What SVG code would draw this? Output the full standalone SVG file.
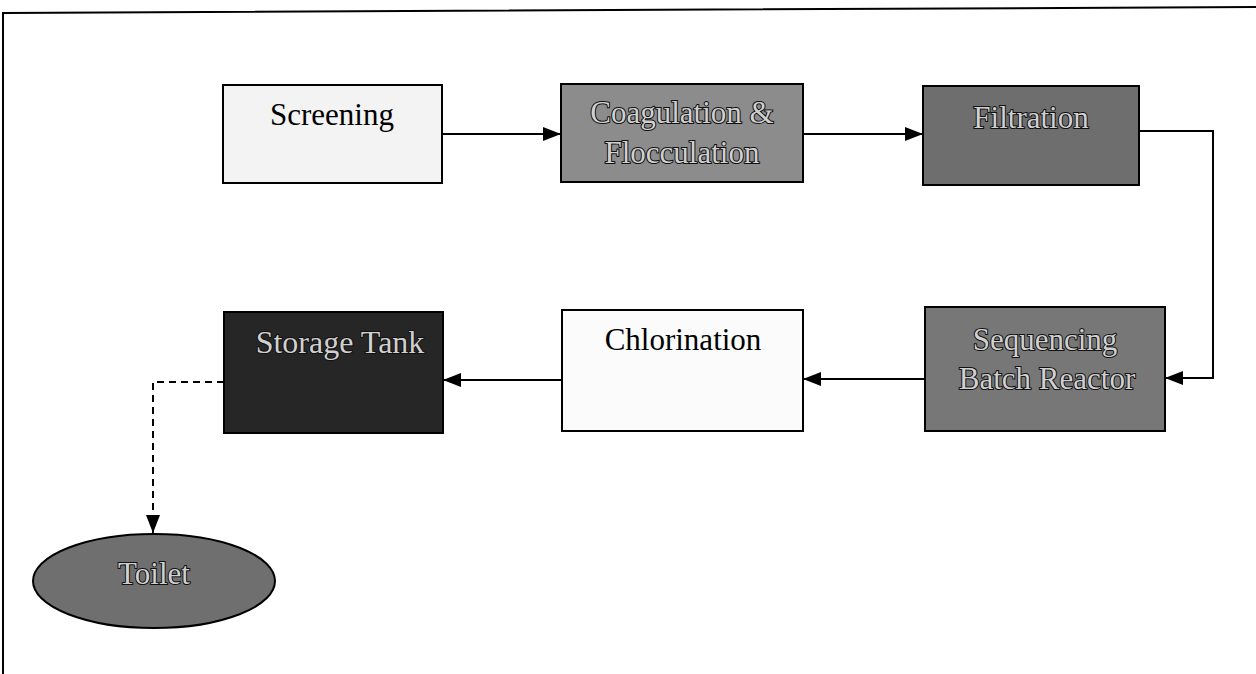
<svg xmlns="http://www.w3.org/2000/svg" width="1256" height="674" viewBox="0 0 1256 674">
<style>
.box{stroke:#000;stroke-width:2}
.t{font-family:"Liberation Serif","Times New Roman",serif;font-size:31px;text-anchor:middle}
.dark{fill:#000}
.light{fill:#d0d0d0;stroke:#111;stroke-width:2;paint-order:stroke}
.conn{fill:none;stroke:#000;stroke-width:2}
.dash{stroke-dasharray:7 5}
</style>
<defs>
<marker id="ah" viewBox="0 0 18 14" refX="18" refY="7" markerWidth="18" markerHeight="14" markerUnits="userSpaceOnUse" orient="auto">
<path d="M0,0 L18,7 L0,14 Z" fill="#000"/>
</marker>
</defs>
<rect width="1256" height="674" fill="#fff"/>
<g id="frame">
<path d="M3,674 L3,13 L1256,7" fill="none" stroke="#000" stroke-width="2"/>
</g>
<g id="connectors">
<path class="conn" d="M442,134 L561,134" marker-end="url(#ah)"/>
<path class="conn" d="M803,134 L923,134" marker-end="url(#ah)"/>
<path class="conn" d="M1139,131 L1213,131 L1213,378 L1165,378" marker-end="url(#ah)"/>
<path class="conn" d="M925,379 L803,379" marker-end="url(#ah)"/>
<path class="conn" d="M562,380 L443,380" marker-end="url(#ah)"/>
<path class="conn dash" d="M224,382 L153,382 L153,533" marker-end="url(#ah)"/>
</g>
<g id="screening">
<rect class="box" x="223" y="85" width="219" height="98" fill="#f3f3f3"/>
<text class="t dark" x="332" y="125">Screening</text>
</g>
<g id="coagulation">
<rect class="box" x="561" y="84" width="242" height="98" fill="#8c8c8c"/>
<text class="t light" x="682" y="123">Coagulation &amp;</text>
<text class="t light" x="682" y="163">Flocculation</text>
</g>
<g id="filtration">
<rect class="box" x="923" y="86" width="216" height="99" fill="#6e6e6e"/>
<text class="t light" x="1031" y="128">Filtration</text>
</g>
<g id="sbr">
<rect class="box" x="925" y="307" width="240" height="124" fill="#777"/>
<text class="t light" x="1045" y="350">Sequencing</text>
<text class="t light" x="1047" y="389">Batch Reactor</text>
</g>
<g id="chlorination">
<rect class="box" x="562" y="310" width="241" height="121" fill="#fbfbfb"/>
<text class="t dark" x="683" y="350">Chlorination</text>
</g>
<g id="storage">
<rect class="box" x="224" y="312" width="219" height="121" fill="#262626"/>
<text class="t light" x="340" y="353" style="font-size:32px">Storage Tank</text>
</g>
<g id="toilet">
<ellipse class="box" cx="154" cy="581" rx="121" ry="47" fill="#6f6f6f"/>
<text class="t light" x="154" y="584">Toilet</text>
</g>
</svg>
